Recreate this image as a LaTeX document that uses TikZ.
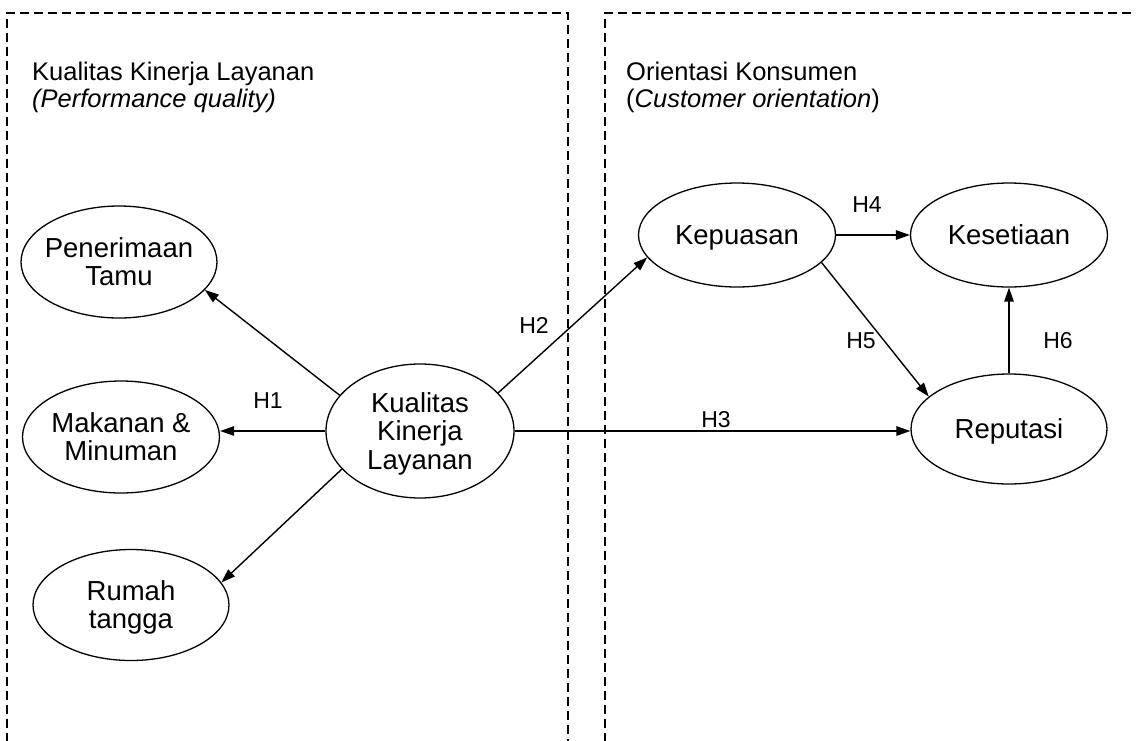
\documentclass[tikz,border=0pt]{standalone}
\usepackage{fontspec}
\setmainfont{Liberation Sans}
\usetikzlibrary{arrows.meta,shapes.geometric}

% centred multi-line text that does not enlarge its ellipse;
% #1 lifts the first baseline above the node centre
\newcommand\ovallines[2]{\smash{\raisebox{#1}{\makebox[0pt]{\begin{tabular}[t]{@{}c@{}}#2\end{tabular}}}}}

\begin{document}
\begin{tikzpicture}[x=1pt,y=-1pt,
  frame/.style={line width=2pt, dash pattern=on 9pt off 5pt},
  oval/.style={ellipse, draw, line width=1.3pt, inner sep=0pt,
    font=\fontsize{27.5}{28.5}\selectfont},
  heading/.style={anchor=base west, inner sep=0pt,
    font=\fontsize{25.5}{26}\selectfont},
  hyp/.style={inner sep=0pt, font=\fontsize{23}{24}\selectfont},
  link/.style={line width=1.4pt, -{Triangle[length=14pt,width=9.5pt]}},
]
\useasboundingbox (0,0) rectangle (1136,740);
\fill[white] (0,0) rectangle (1136,740);

% dashed group frames
\draw[frame] (7,742) -- (7,13) -- (568,13) -- (568,742);
\draw[frame] (605,742) -- (605,13) -- (1140,13);

% group headings
\node[heading] (g1a) at (32,80) {Kualitas Kinerja Layanan};
\node[heading] (g1b) at (32,107) {\textit{(Performance quality)}};
\node[heading] (g2a) at (626,80) {Orientasi Konsumen};
\node[heading] (g2b) at (626,107) {(\textit{Customer orientation})};

% constructs
\node[oval, minimum width=196pt, minimum height=112pt] (pen) at (119,262)
  {\ovallines{4.6pt}{Penerimaan\\Tamu}};
\node[oval, minimum width=197pt, minimum height=112pt] (mak) at (121,437)
  {\ovallines{4.6pt}{Makanan \&\\Minuman}};
\node[oval, minimum width=196pt, minimum height=111pt] (rum) at (131,605)
  {\ovallines{4.6pt}{Rumah\\tangga}};
\node[oval, minimum width=188pt, minimum height=134pt] (kkl) at (420,431)
  {\ovallines{18.8pt}{Kualitas\\Kinerja\\Layanan}};
\node[oval, minimum width=197pt, minimum height=104pt] (kep) at (737,235)
  {\ovallines{-9.5pt}{Kepuasan}};
\node[oval, minimum width=197pt, minimum height=104pt] (kes) at (1009,235)
  {\ovallines{-9.5pt}{Kesetiaan}};
\node[oval, minimum width=196pt, minimum height=110pt] (rep) at (1009,429)
  {\ovallines{-9.5pt}{Reputasi}};

% paths
\draw[link] (kkl.156.9) -- (pen.-18.2);
\draw[link] (kkl.west) -- (kkl.west -| mak.east);
\draw[link] (kkl.206.6) -- (rum.14.5);
\draw[link] (kkl.26.6) -- (kep.194.6);
\draw[link] (kkl.east) -- (kkl.east -| rep.west);
\draw[link] (kep.east) -- (kes.west);
\draw[link] (kep.-18.9) -- (rep.158.3);
\draw[link] (rep.north) -- (kes.south);

% hypothesis labels
\node[hyp] (h1) at (268,401) {H1};
\node[hyp] (h2) at (534,325) {H2};
\node[hyp] (h3) at (716,420) {H3};
\node[hyp] (h4) at (867,205) {H4};
\node[hyp] (h5) at (861,341) {H5};
\node[hyp] (h6) at (1058,341) {H6};
\end{tikzpicture}
\end{document}
